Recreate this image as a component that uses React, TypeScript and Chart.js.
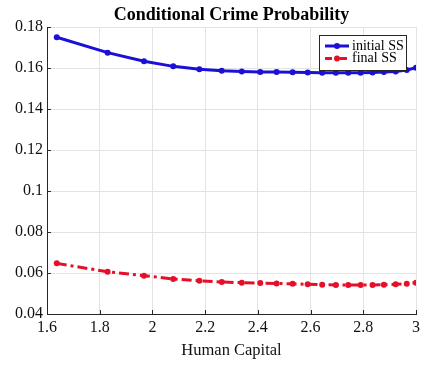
import React, { useEffect, useRef } from "react";
import { Chart, registerables } from "chart.js";

Chart.register(...registerables);

const humanCapital = [1.637, 1.830, 1.968, 2.079, 2.178, 2.263, 2.339, 2.409, 2.471, 2.532, 2.589, 2.644, 2.696, 2.743, 2.790, 2.835, 2.878, 2.923, 2.965, 3.0];
const initialSS = [0.175, 0.1675, 0.1633, 0.1608, 0.1594, 0.1587, 0.1583, 0.1581, 0.158, 0.1579, 0.1578, 0.1577, 0.1577, 0.1577, 0.1577, 0.1578, 0.158, 0.1583, 0.159, 0.1601];
const finalSS = [0.0647, 0.0606, 0.0587, 0.0571, 0.0562, 0.0556, 0.0553, 0.0551, 0.0549, 0.0547, 0.0545, 0.0543, 0.0542, 0.0541, 0.0541, 0.0542, 0.0543, 0.0545, 0.0548, 0.0553];
const seriesNames = ["initial SS", "final SS"];
const chartTitle = "Conditional Crime Probability";
const xAxisTitle = "Human Capital";

const BLUE = "#1d10d6";
const RED = "#e60f2a";
const SERIF = "'Liberation Serif', 'Times New Roman', serif";

const fmt = (v: number) => parseFloat(Number(v).toFixed(2)).toString();

export default function App() {
  const ref = useRef<HTMLCanvasElement | null>(null);

  useEffect(() => {
    if (!ref.current) return;
    const decor = {
      id: "decor",
      afterDraw(chart: any) {
        const ctx = chart.ctx;
        const a = chart.chartArea;
        ctx.save();
        // title
        ctx.fillStyle = "#000";
        ctx.font = "bold 18px " + SERIF;
        ctx.textAlign = "center";
        ctx.textBaseline = "middle";
        ctx.fillText(chartTitle, (a.left + a.right) / 2, 15);
        // inward ticks
        ctx.strokeStyle = "#262626";
        ctx.lineWidth = 1;
        const xs = chart.scales.x;
        const ys = chart.scales.y;
        ctx.beginPath();
        xs.ticks.forEach((t: any) => {
          const px = Math.round(xs.getPixelForValue(t.value)) + 0.5;
          ctx.moveTo(px, a.bottom);
          ctx.lineTo(px, a.bottom - 4);
        });
        ys.ticks.forEach((t: any) => {
          const py = Math.round(ys.getPixelForValue(t.value)) + 0.5;
          ctx.moveTo(a.left, py);
          ctx.lineTo(a.left + 4, py);
        });
        ctx.stroke();
        // legend
        const lx = 319.5, ly = 35.5, lw = 87, lh = 35;
        ctx.fillStyle = "#fff";
        ctx.fillRect(lx, ly, lw, lh);
        ctx.strokeStyle = "#262626";
        ctx.strokeRect(lx, ly, lw, lh);
        const entries = [
          { color: BLUE, dash: [] as number[], y: 46, label: seriesNames[0] },
          { color: RED, dash: [7, 3, 2, 3], y: 58.5, label: seriesNames[1] },
        ];
        entries.forEach((e) => {
          ctx.strokeStyle = e.color;
          ctx.lineWidth = 3;
          ctx.setLineDash(e.dash);
          ctx.beginPath();
          ctx.moveTo(325, e.y);
          ctx.lineTo(349, e.y);
          ctx.stroke();
          ctx.setLineDash([]);
          ctx.fillStyle = e.color;
          ctx.beginPath();
          ctx.arc(337, e.y, 3, 0, Math.PI * 2);
          ctx.fill();
          ctx.fillStyle = "#000";
          ctx.font = "14px " + SERIF;
          ctx.textAlign = "left";
          ctx.textBaseline = "middle";
          ctx.fillText(e.label, 352, e.y);
        });
        ctx.restore();
      },
    };

    const chart = new Chart(ref.current, {
      type: "line",
      data: {
        datasets: [
          {
            label: seriesNames[0],
            data: humanCapital.map((x, i) => ({ x, y: initialSS[i] })),
            borderColor: BLUE,
            backgroundColor: BLUE,
            borderWidth: 3,
            pointRadius: 3,
            pointBorderWidth: 0,
            pointBackgroundColor: BLUE,
            tension: 0,
          },
          {
            label: seriesNames[1],
            data: humanCapital.map((x, i) => ({ x, y: finalSS[i] })),
            borderColor: RED,
            backgroundColor: RED,
            borderWidth: 3,
            borderDash: [10, 4, 3, 4],
            pointRadius: 3,
            pointBorderWidth: 0,
            pointBackgroundColor: RED,
            tension: 0,
          },
        ],
      },
      plugins: [decor],
      options: {
        animation: false,
        responsive: false,
        maintainAspectRatio: false,
        layout: { padding: { top: 27, right: 32, left: 0, bottom: 0 } },
        plugins: {
          legend: { display: false },
          title: { display: false },
          tooltip: { enabled: false },
        },
        scales: {
          x: {
            type: "linear",
            min: 1.6,
            max: 3,
            ticks: {
              stepSize: 0.2,
              color: "#111",
              font: { family: SERIF, size: 16 },
              padding: 4,
              maxRotation: 0,
              callback: (v: any) => fmt(v),
            },
            grid: { color: "#e3e3e3", drawTicks: false },
            border: { display: true, color: "#262626", width: 1 },
            title: {
              display: true,
              text: xAxisTitle,
              color: "#111",
              font: { family: SERIF, size: 16.5 },
              padding: { top: 2, bottom: 7 },
            },
            afterFit: (s: any) => {
              s.height = 54;
            },
          },
          y: {
            type: "linear",
            min: 0.04,
            max: 0.18,
            ticks: {
              stepSize: 0.02,
              color: "#111",
              font: { family: SERIF, size: 16 },
              padding: 4,
              callback: (v: any) => fmt(v),
            },
            grid: { color: "#e3e3e3", drawTicks: false },
            border: { display: true, color: "#262626", width: 1 },
            afterFit: (s: any) => {
              s.width = 47;
            },
          },
        },
      },
    } as any);
    return () => chart.destroy();
  }, []);

  return (
    <div style={{ position: "fixed", left: 0, top: 0, width: 448, height: 368, background: "#fff" }}>
      <canvas ref={ref} width={448} height={368} style={{ width: 448, height: 368 }} />
    </div>
  );
}
